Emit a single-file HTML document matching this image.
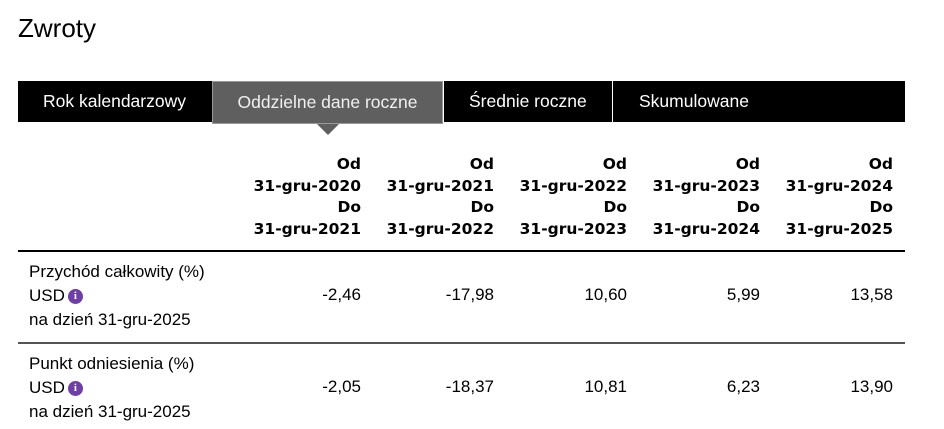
<!DOCTYPE html>
<html><head><meta charset="utf-8"><style>
body{margin:0;width:944px;height:429px;background:#fff;font-family:"Liberation Sans",sans-serif;color:#000;position:relative;overflow:hidden}
.a{position:absolute;white-space:nowrap}
.tab{position:absolute;top:81px;height:41px;background:#000;color:#fff;font-size:17.5px;line-height:41px;white-space:nowrap}
.h{position:absolute;top:154px;width:140px;text-align:right;font-weight:bold;font-family:"DejaVu Sans",sans-serif;font-size:15.5px;line-height:21.5px;white-space:nowrap}
.v{position:absolute;width:140px;text-align:right;font-size:17px}
.i{display:inline-block;width:15px;height:15px;border-radius:50%;background:#6f3ea6;color:#fff;font-size:11px;font-weight:bold;text-align:center;line-height:15px;font-family:"Liberation Serif",serif;vertical-align:2px;margin-left:3px}
.lab{position:absolute;left:29px;font-size:17px;line-height:24px}
</style></head><body>
<div class="a" style="left:18px;top:13px;font-size:26px">Zwroty</div>
<div class="tab" style="left:18px;width:887px"></div>
<div class="tab" style="left:43px;background:transparent">Rok kalendarzowy</div>
<div class="tab" style="left:212px;width:231px;height:43px;background:#5f5f5f;border:1px solid #999;box-sizing:border-box;text-align:center;line-height:41px;color:#f0f0f0">Oddzielne dane roczne</div>
<div style="position:absolute;left:317px;top:124px;width:0;height:0;border-left:11px solid transparent;border-right:11px solid transparent;border-top:11px solid #5f5f5f"></div>
<div class="tab" style="left:443px;width:169px;padding-left:25px;background:transparent;border-left:1px solid #fff;box-sizing:border-box">Średnie roczne</div>
<div class="tab" style="left:612px;width:150px;padding-left:26px;background:transparent;border-left:1px solid #fff;box-sizing:border-box">Skumulowane</div>
<div class="h" style="left:221px">Od<br>31-gru-2020<br>Do<br>31-gru-2021</div>
<div class="h" style="left:354px">Od<br>31-gru-2021<br>Do<br>31-gru-2022</div>
<div class="h" style="left:487px">Od<br>31-gru-2022<br>Do<br>31-gru-2023</div>
<div class="h" style="left:620px">Od<br>31-gru-2023<br>Do<br>31-gru-2024</div>
<div class="h" style="left:753px">Od<br>31-gru-2024<br>Do<br>31-gru-2025</div>
<div style="position:absolute;left:18px;top:250px;width:887px;height:2px;background:#000"></div>
<div class="lab" style="top:260px">Przychód całkowity (%)<br>USD<span class="i">i</span><br>na dzień 31-gru-2025</div>
<div class="v" style="left:221px;top:285px">-2,46</div>
<div class="v" style="left:354px;top:285px">-17,98</div>
<div class="v" style="left:487px;top:285px">10,60</div>
<div class="v" style="left:620px;top:285px">5,99</div>
<div class="v" style="left:753px;top:285px">13,58</div>
<div style="position:absolute;left:18px;top:342px;width:887px;height:2px;background:#555"></div>
<div class="lab" style="top:352px">Punkt odniesienia (%)<br>USD<span class="i">i</span><br>na dzień 31-gru-2025</div>
<div class="v" style="left:221px;top:377px">-2,05</div>
<div class="v" style="left:354px;top:377px">-18,37</div>
<div class="v" style="left:487px;top:377px">10,81</div>
<div class="v" style="left:620px;top:377px">6,23</div>
<div class="v" style="left:753px;top:377px">13,90</div>
</body></html>
